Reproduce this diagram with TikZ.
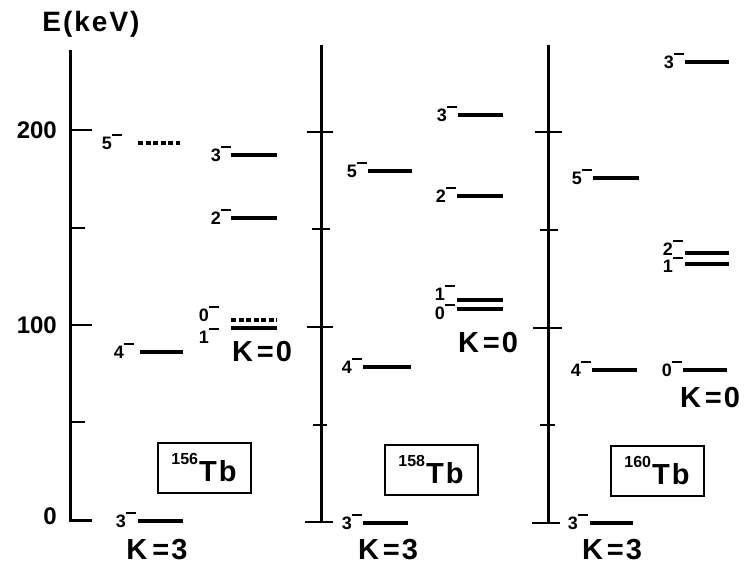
\documentclass[tikz,border=0pt]{standalone}
\usepackage{fontspec}
\setmainfont{Liberation Sans}
\newcommand\spin[1]{#1\rule[0.74em]{0.55em}{0.12em}}
\newcommand\nuc[1]{{\fontsize{16}{16}\selectfont\raisebox{17pt}{#1}}\hspace{1pt}{\fontsize{29}{29}\selectfont T\hspace{2pt}b}}
\tikzset{
  axisline/.style={line width=3pt},
  tick/.style={line width=2.6pt},
  lev/.style={line width=3.2pt},
  levd/.style={lev, dash pattern=on 5pt off 2.5pt},
  jp/.style={font=\fontsize{18}{18}\selectfont\bfseries, inner sep=0pt, anchor=base east},
  klab/.style={font=\fontsize{29}{29}\selectfont\bfseries, inner sep=0pt},
  num/.style={font=\fontsize{24}{24}\selectfont\bfseries, inner sep=0pt, anchor=east},
  isobox/.style={draw, line width=2pt, inner sep=0pt, minimum width=93pt, minimum height=50pt, font=\bfseries}
}
\begin{document}
\begin{tikzpicture}[x=1pt,y=-1pt]
\useasboundingbox (0,0) rectangle (749,570);

% energy scale labels
\node[font=\fontsize{28}{28}\selectfont\bfseries, inner sep=0pt] (title) at (91,24) {E\hspace{2pt}(\hspace{2pt}k\hspace{2pt}e\hspace{2pt}V\hspace{2pt})};
\node[num] (e200) at (57,130) {200};
\node[num] (e100) at (57,325) {100};
\node[num] (e0) at (57,516) {0};

% ---- 156Tb ----
\draw[axisline] (70,50) -- (70,520) -- (92,520);
\draw[tick] (70,130) -- (92,130);
\draw[tick] (70,228) -- (85,228);
\draw[tick] (70,325) -- (92,325);
\draw[tick] (70,422) -- (85,422);

\draw[levd] (138,143) -- (180,143);
\node[jp] (a5) at (122,149) {\spin{5}};
\draw[lev] (231,155) -- (277,155);
\node[jp] (a3) at (231,161) {\spin{3}};
\draw[lev] (231,218) -- (277,218);
\node[jp] (a2) at (231,224) {\spin{2}};
\draw[levd] (231,320) -- (277,320);
\node[jp] (a0) at (219,321) {\spin{0}};
\draw[lev] (231,328) -- (277,328);
\node[jp] (a1) at (219,343) {\spin{1}};
\draw[lev] (140,352) -- (183,352);
\node[jp] (a4) at (134,358) {\spin{4}};
\draw[lev] (138,521) -- (183,521);
\node[jp] (ag) at (136,527) {\spin{3}};

\node[klab] (ak0) at (262,352) {K\hspace{4pt}=\hspace{2pt}0};
\node[klab] (ak3) at (157,550) {K\hspace{5pt}=\hspace{2pt}3};
\node[isobox] (abox) at (204,468) {\nuc{156}};

% ---- 158Tb ----
\draw[axisline] (321,45) -- (321,522);
\draw[tick] (307,132) -- (333,132);
\draw[tick] (312,229) -- (330,229);
\draw[tick] (307,327) -- (333,327);
\draw[tick] (313,425) -- (327,425);
\draw[tick] (305,522) -- (333,522);

\draw[lev] (458,115) -- (503,115);
\node[jp] (b3) at (457,121) {\spin{3}};
\draw[lev] (368,171) -- (412,171);
\node[jp] (b5) at (367,177) {\spin{5}};
\draw[lev] (457,196) -- (503,196);
\node[jp] (b2) at (456,202) {\spin{2}};
\draw[lev] (457,300) -- (503,300);
\node[jp] (b1) at (455,300) {\spin{1}};
\draw[lev] (457,309) -- (503,309);
\node[jp] (b0) at (455,319) {\spin{0}};
\draw[lev] (363,367) -- (411,367);
\node[jp] (b4) at (362,373) {\spin{4}};
\draw[lev] (363,523) -- (408,523);
\node[jp] (bg) at (362,529) {\spin{3}};

\node[klab] (bk0) at (488,343) {K\hspace{4pt}=\hspace{2pt}0};
\node[klab] (bk3) at (388,550) {K\hspace{4pt}=\hspace{2pt}3};
\node[isobox] (bbox) at (431,470) {\nuc{158}};

% ---- 160Tb ----
\draw[axisline] (548,45) -- (548,523);
\draw[tick] (535,132) -- (562,132);
\draw[tick] (540,230) -- (558,230);
\draw[tick] (533,328) -- (562,328);
\draw[tick] (540,425) -- (555,425);
\draw[tick] (532,523) -- (560,523);

\draw[lev] (685,62) -- (729,62);
\node[jp] (c3) at (684,68) {\spin{3}};
\draw[lev] (593,178) -- (639,178);
\node[jp] (c5) at (592,184) {\spin{5}};
\draw[lev] (685,253) -- (729,253);
\node[jp] (c2) at (683,255) {\spin{2}};
\draw[lev] (685,264) -- (729,264);
\node[jp] (c1) at (683,272) {\spin{1}};
\draw[lev] (592,370) -- (637,370);
\node[jp] (c4) at (591,376) {\spin{4}};
\draw[lev] (683,370) -- (727,370);
\node[jp] (c0) at (682,376) {\spin{0}};
\draw[lev] (590,523) -- (633,523);
\node[jp] (cg) at (588,529) {\spin{3}};

\node[klab] (ck0) at (710,398) {K\hspace{4pt}=\hspace{2pt}0};
\node[klab] (ck3) at (612,550) {K\hspace{4pt}=\hspace{2pt}3};
\node[isobox] (cbox) at (657,471) {\nuc{160}};
\end{tikzpicture}
\end{document}
